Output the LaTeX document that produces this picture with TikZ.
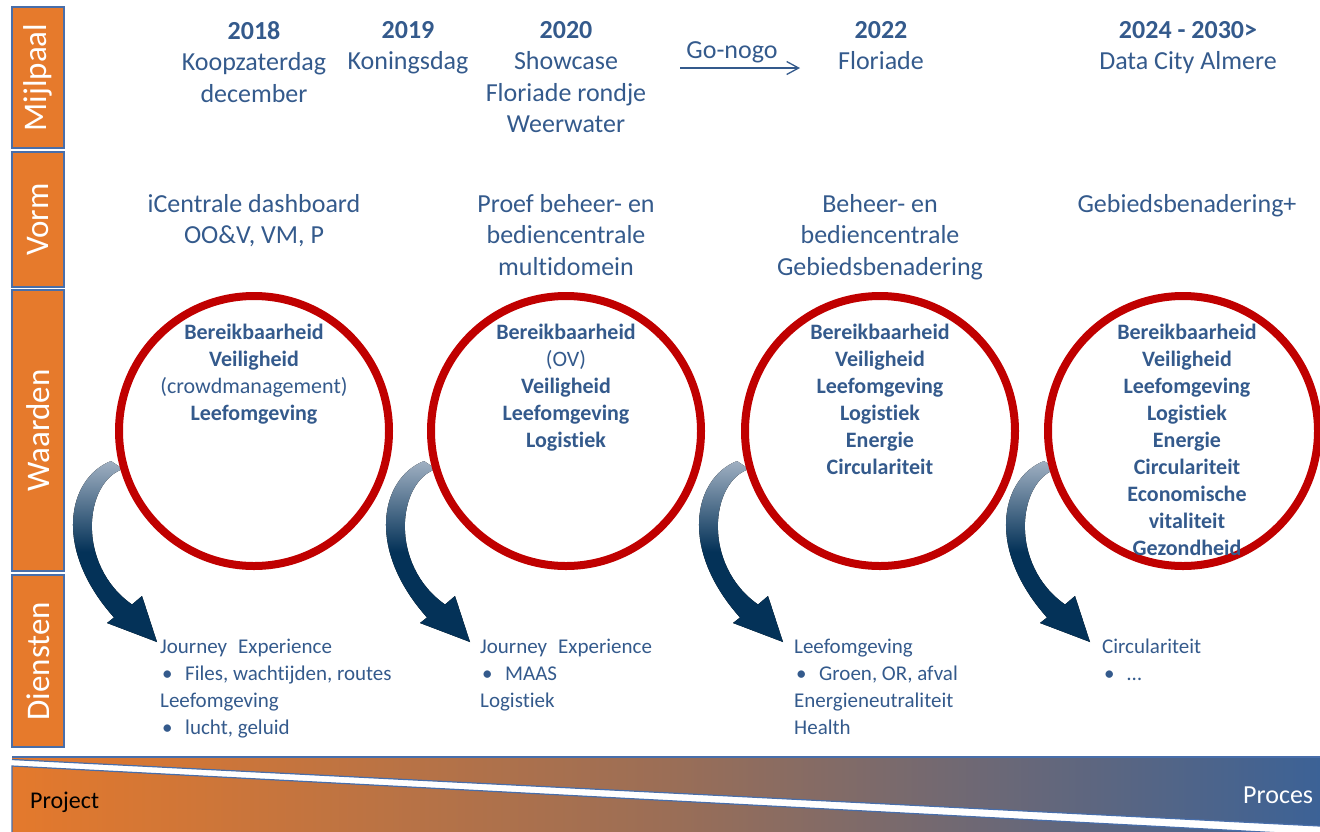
\documentclass[tikz,border=0pt]{standalone}
\usepackage{fontspec}
\setmainfont{Carlito}[RawFeature={-liga}]
\usetikzlibrary{arrows.meta}

\definecolor{txtblue}{RGB}{52,90,140}
\definecolor{boxorange}{RGB}{230,122,44}
\definecolor{boxline}{RGB}{72,110,170}
\definecolor{ringred}{RGB}{192,0,0}
\definecolor{arrlight}{RGB}{160,176,194}
\definecolor{arrdark}{RGB}{4,50,88}
\definecolor{barorange}{RGB}{228,121,44}
\definecolor{barmid}{RGB}{155,110,86}
\definecolor{barblue}{RGB}{60,98,150}
\newcommand{\blt}{\makebox[25pt][l]{\hspace{2pt}•}}

\begin{document}
\begin{tikzpicture}[x=1pt,y=-1pt,
  lbl/.style={draw=boxline, line width=1.2pt, fill=boxorange, text=white, rotate=90,
    minimum height=52pt, inner sep=0pt, font=\fontsize{33}{38}\selectfont},
  ring/.style={circle, draw=ringred, line width=8pt, minimum size=270pt, inner sep=0pt},
  toptxt/.style={align=center, text=txtblue, inner sep=0pt, anchor=north,
    font=\fontsize{26}{31.5}\selectfont},
  ringtxt/.style={align=center, text=txtblue, inner sep=0pt, anchor=north,
    font=\fontsize{22}{27}\selectfont\bfseries},
  dtxt/.style={align=left, text=txtblue, inner sep=0pt, anchor=north west,
    font=\fontsize{21}{27}\selectfont},
  curarrow/.style={top color=arrlight, bottom color=arrdark, middle color=arrdark},
  barshade/.style={left color=barorange, right color=barblue, middle color=barmid},
  barline/.style={draw=boxline, line width=1.2pt},
]
\useasboundingbox (0,0) rectangle (1320,831);

% bottom bar
\shade[barshade] (12,757) -- (1320,757) -- (1320,826) -- (12,759.5) -- cycle;
\draw[barline] (12,757) -- (1320,757);
\draw[barline] (12,759.5) -- (1320,826);
\shade[barshade] (12,766) -- (1320,835) -- (1320,845) -- (12,845) -- cycle;
\draw[barline] (12,845) -- (12,766) -- (1320,835);
\node[anchor=base west, inner sep=0pt, font=\fontsize{24}{28}\selectfont] (proj) at (30,808) {Project};
\node[anchor=base west, inner sep=0pt, text=white, font=\fontsize{26}{30}\selectfont] (proc) at (1243,803) {Proces};

% row labels
\node[lbl, minimum width=141pt] (mijl) at (38,77.5) {Mijlpaal};
\node[lbl, minimum width=135pt] (vorm) at (38,219.5) {Vorm};
\node[lbl, minimum width=281pt] (waard) at (38,430.5) {Waarden};
\node[lbl, minimum width=172pt] (dien) at (38,661) {Diensten};

% curved arrows
\foreach \dx in {0,313,626,933}{
  \begin{scope}[xshift=\dx pt]
  \fill[curarrow] (111,461) .. controls (68,478) and (52,548) .. (114,617.5)
    -- (107,623) -- (157,642) -- (142,596) -- (132,604.5)
    .. controls (76,565) and (84,482) .. (123,469) -- cycle;
  \end{scope}
}

% circles
\node[ring] (c1) at (254,431) {};
\node[ring] (c2) at (566,431) {};
\node[ring] (c3) at (880,431) {};
\node[ring] (c4) at (1183,431) {};

% milestones
\node[toptxt] (m1) at (254,21) {\textbf{2018}\\Koopzaterdag\\december};
\node[toptxt] (m2) at (408,21) {\textbf{2019}\\Koningsdag};
\node[toptxt] (m3) at (566,21) {\textbf{2020}\\Showcase\\Floriade rondje\\Weerwater};
\node[toptxt] (m4) at (881,21) {\textbf{2022}\\Floriade};
\node[toptxt] (m5) at (1188,21) {\textbf{2024 - 2030>}\\Data City Almere};

\node[anchor=base, inner sep=0pt, text=txtblue, font=\fontsize{26}{31}\selectfont] (gn) at (732,58) {Go-nogo};
\coordinate (gna) at (680,68);
\coordinate (gnb) at (800,68);
\draw[txtblue, line width=1.3pt, -{Straight Barb[length=12pt,width=13pt,line width=1.3pt]}] (gna) -- (gnb);

% vorm
\node[toptxt] (v1) at (254,194) {iCentrale dashboard\\OO\&V, VM, P};
\node[toptxt] (v2) at (566,194) {Proef beheer- en\\bediencentrale\\multidomein};
\node[toptxt] (v3) at (880,194) {Beheer- en\\bediencentrale\\Gebiedsbenadering};
\node[toptxt] (v4) at (1187,194) {Gebiedsbenadering+};

% waarden
\node[ringtxt] (w1) at (254,324) {Bereikbaarheid\\Veiligheid\\{\mdseries (crowdmanagement)}\\Leefomgeving};
\node[ringtxt] (w2) at (566,324) {Bereikbaarheid\\{\mdseries (OV)}\\Veiligheid\\Leefomgeving\\Logistiek};
\node[ringtxt] (w3) at (880,324) {Bereikbaarheid\\Veiligheid\\Leefomgeving\\Logistiek\\Energie\\Circulariteit};
\node[ringtxt] (w4) at (1187,324) {Bereikbaarheid\\Veiligheid\\Leefomgeving\\Logistiek\\Energie\\Circulariteit\\Economische\\vitaliteit\\Gezondheid};

% diensten
\node[dtxt] (d1) at (160,639) {Journey\hspace{11pt}Experience\\\blt Files, wachtijden, routes\\Leefomgeving\\\blt lucht, geluid};
\node[dtxt] (d2) at (480,639) {Journey\hspace{11pt}Experience\\\blt MAAS\\Logistiek};
\node[dtxt] (d3) at (794,639) {Leefomgeving\\\blt Groen, OR, afval\\Energieneutraliteit\\Health};
\node[dtxt] (d4) at (1102,639) {Circulariteit\\\blt …};
\end{tikzpicture}
\end{document}
